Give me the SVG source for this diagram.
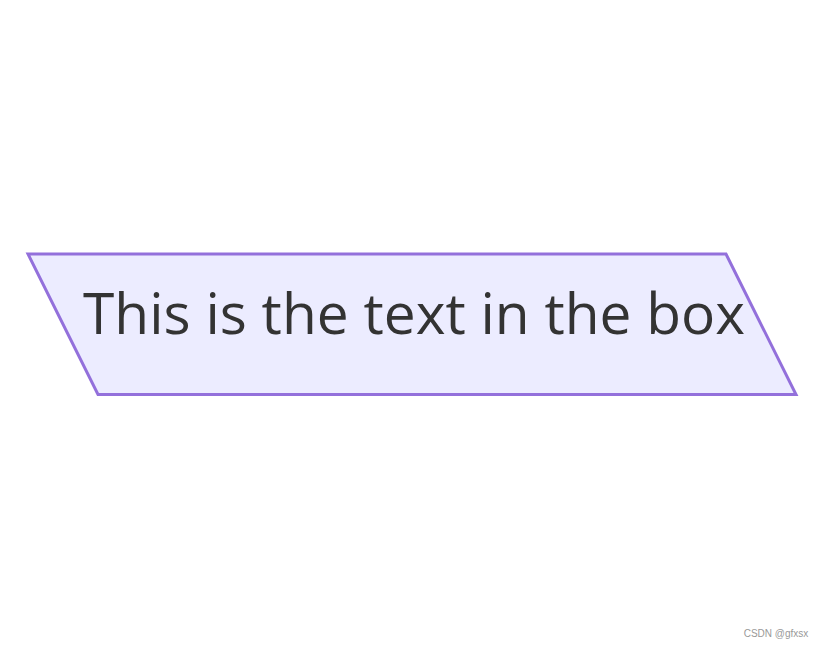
<svg xmlns="http://www.w3.org/2000/svg" width="824" height="649" viewBox="0 0 824 649">
<style>
.node-shape{fill:#ECECFF;stroke:#9370DB;stroke-width:3}
.node-label{font-family:"Open Sans","DejaVu Sans",sans-serif;font-size:57px;fill:#333333}
.wm{font-family:"Liberation Sans",sans-serif;font-size:10px;fill:#999999}
</style>
<rect width="824" height="649" fill="#ffffff"/>
<g id="connectors"></g>
<g id="node-A">
<polygon class="node-shape" points="28,254 726,254 796,394.5 98,394.5"/>
<text class="node-label" x="414" y="334" text-anchor="middle" textLength="662" lengthAdjust="spacingAndGlyphs">This is the text in the box</text>
</g>
<text class="wm" x="776" y="637" text-anchor="middle">CSDN @gfxsx</text>
</svg>
